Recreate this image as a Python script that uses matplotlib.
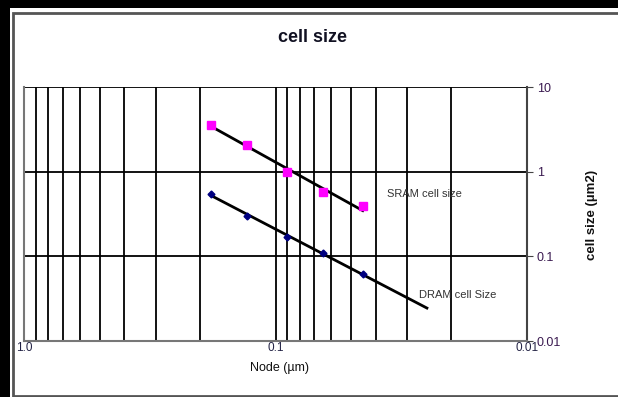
import matplotlib
matplotlib.use('Agg')
import matplotlib.pyplot as plt
from matplotlib.patches import Rectangle
from matplotlib.ticker import LogLocator, FixedLocator, NullFormatter
import numpy as np

plt.rcParams['font.family'] = ['Liberation Sans', 'DejaVu Sans']

# node sizes (um) and cell sizes (um2)
node = [0.18, 0.13, 0.09, 0.065, 0.045]
sram = [3.6, 2.05, 1.0, 0.57, 0.39]
dram = [0.55, 0.30, 0.17, 0.11, 0.062]
dram_trend_end = 0.025

x_ticks = [1.0, 0.1, 0.01]
x_ticklabels = ['1.0', '0.1', '0.01']
y_ticks = [0.01, 0.1, 1, 10]
y_ticklabels = ['0.01', '0.1', '1', '10']

W, H = 618, 397
fig = plt.figure(figsize=(W / 100, H / 100), dpi=100, facecolor='black')

# white panel with grey border
fig.patches.append(Rectangle((10 / W, 0), 1, 1 - 8 / H, transform=fig.transFigure,
                             facecolor='white', edgecolor='none', zorder=-2))
fig.patches.append(Rectangle((13 / W, 1 / H), 1, 1 - 14 / H, transform=fig.transFigure,
                             facecolor='white', edgecolor='#555555', lw=2, zorder=-1))

ax = fig.add_axes([24 / W, 1 - 341 / H, 503 / W, 254 / H])
ax.set_zorder(2)
ax.set_facecolor('white')
ax.set_xscale('log')
ax.set_yscale('log')
ax.set_xlim(1.0, 0.01)
ax.set_ylim(0.01, 10)

# grid: x major + minor, y major only
ax.xaxis.set_major_locator(FixedLocator(x_ticks))
ax.xaxis.set_minor_locator(LogLocator(base=10, subs=np.arange(2, 10)))
ax.xaxis.set_minor_formatter(NullFormatter())
ax.set_xticklabels(x_ticklabels)
ax.yaxis.set_major_locator(FixedLocator(y_ticks))
ax.yaxis.set_minor_locator(FixedLocator([]))
ax.set_yticklabels(y_ticklabels)
ax.grid(True, which='both', axis='x', color='black', lw=1.3)
ax.grid(True, which='major', axis='y', color='black', lw=1.3)

ax.yaxis.tick_right()
ax.tick_params(axis='y', which='major', length=4, color='#444444', labelsize=9,
               labelcolor='#3a1a50', pad=3)
ax.tick_params(axis='x', which='both', length=0, labelsize=8.5, labelcolor='#222244', pad=1)
for s in ['left', 'bottom', 'right']:
    ax.spines[s].set_color('#777777')
    ax.spines[s].set_linewidth(1.5)
ax.spines['right'].set_color('#444444')
ax.spines['top'].set_visible(False)

# power-law trendlines
ls = np.polyfit(np.log10(node), np.log10(sram), 1)
xs = np.logspace(np.log10(node[0]), np.log10(node[-1]), 50)
ax.plot(xs, 10 ** np.polyval(ls, np.log10(xs)), color='black', lw=2, zorder=3)
ld = np.polyfit(np.log10(node), np.log10(dram), 1)
xd = np.logspace(np.log10(node[0]), np.log10(dram_trend_end), 50)
ax.plot(xd, 10 ** np.polyval(ld, np.log10(xd)), color='black', lw=2, zorder=3)

ax.plot(node, sram, 's', color='#ff00ff', ms=5.5, zorder=4)
ax.plot(node, dram, 'D', color='#000080', ms=3.5, zorder=4)

ax.text(0.036, 0.55, 'SRAM cell size', fontsize=8, color='#333333', va='center', zorder=5)
ax.text(0.0268, 0.035, 'DRAM cell Size', fontsize=8, color='#333333', va='center', zorder=5)

fig.text(313 / W, 1 - 37 / H, 'cell size', fontsize=13, fontweight='bold',
         ha='center', va='center', color='#111122')
fig.text(280 / W, 1 - 368 / H, 'Node (µm)', fontsize=9, ha='center', va='center',
         color='#111111')
fig.text(592 / W, 1 - 215 / H, 'cell size (µm2)', fontsize=9.5, fontweight='bold',
         rotation=90, ha='center', va='center', color='#111111')

fig.savefig('out.png', dpi=100, facecolor=fig.get_facecolor())
